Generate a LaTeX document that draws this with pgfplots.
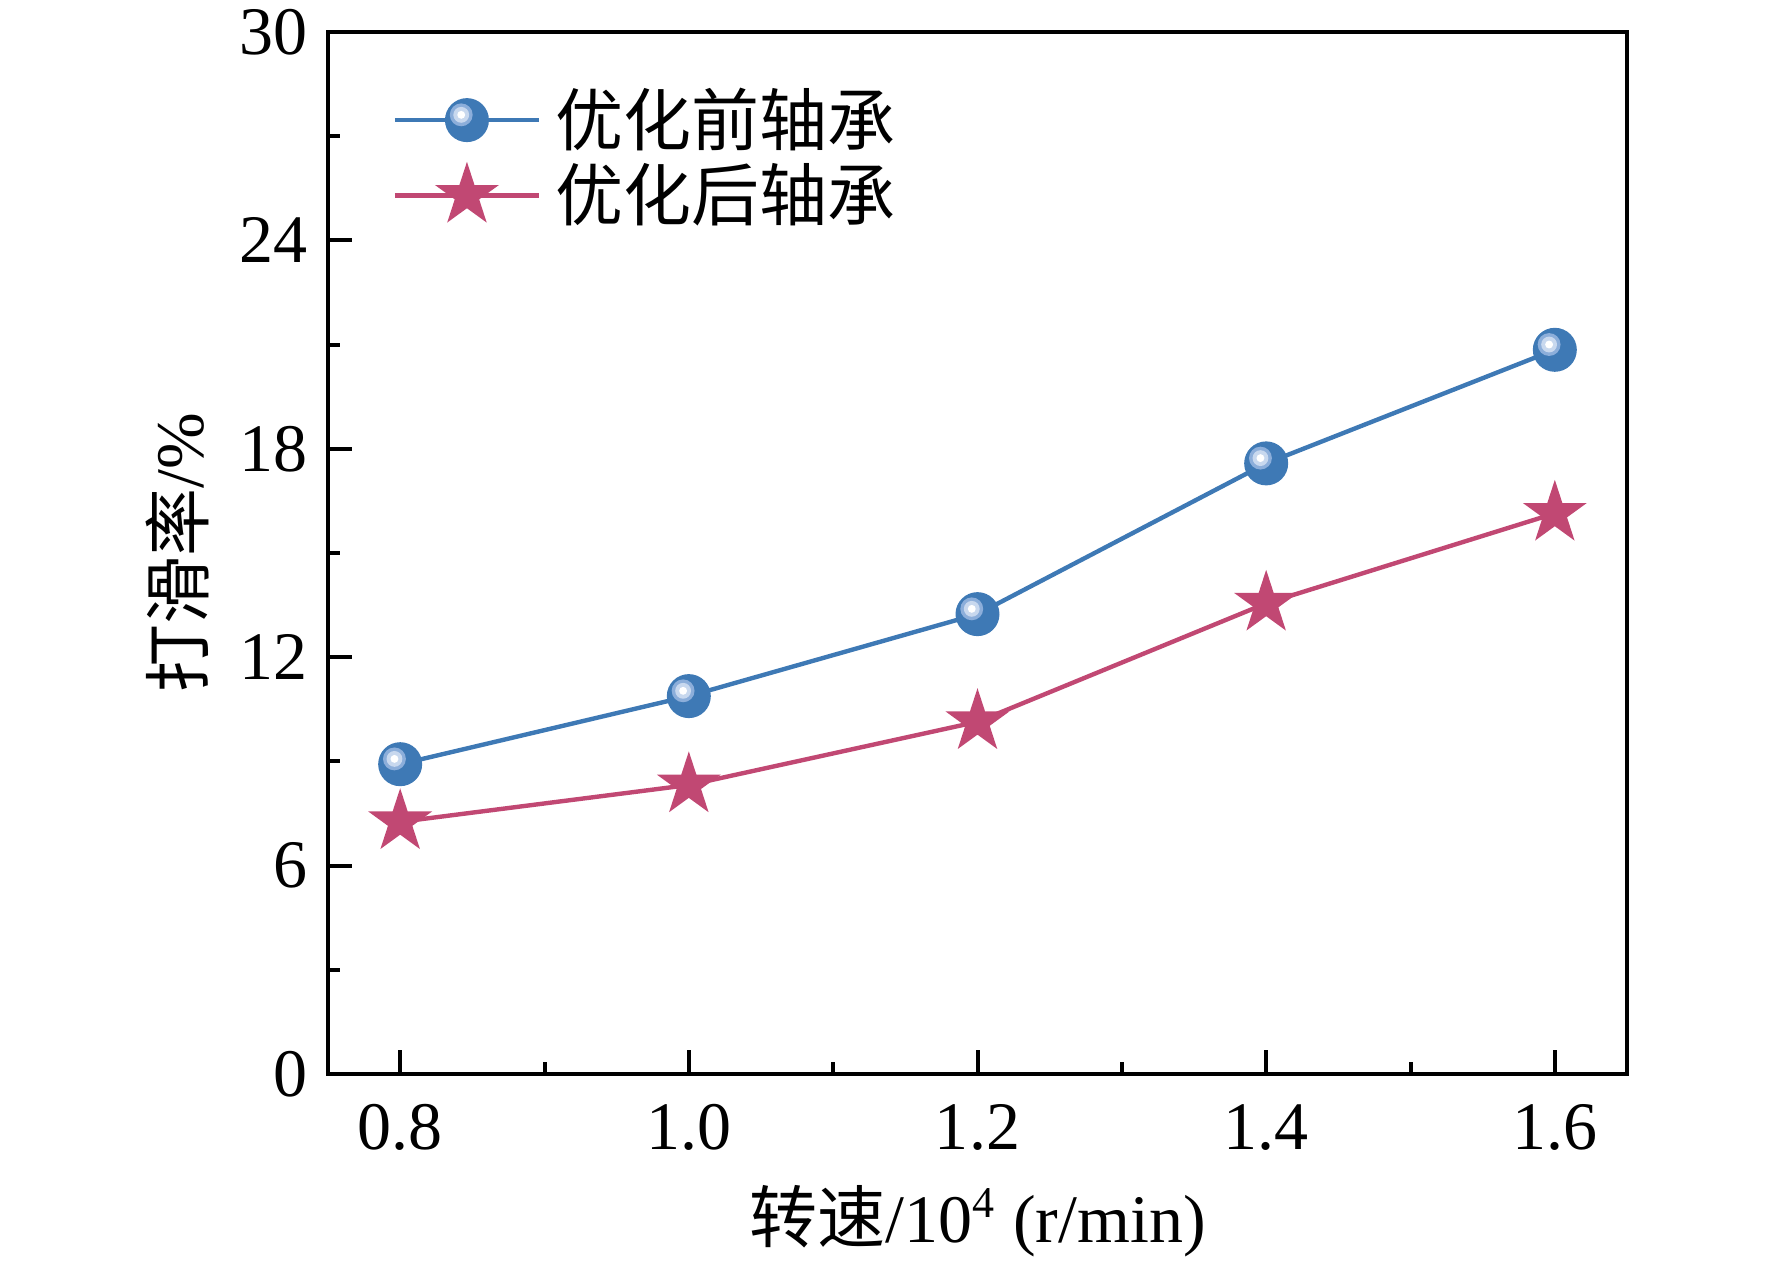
\documentclass[border=0pt]{standalone}
\usepackage{fontspec}
\setmainfont{Liberation Serif}
\newfontfamily\cjk{Noto Sans CJK SC}
\usepackage{pgfplots}
\pgfplotsset{compat=1.18}
\definecolor{lblue}{RGB}{62,121,181}
\definecolor{lpink}{RGB}{193,72,115}
\definecolor{ballpale}{RGB}{140,174,218}
\definecolor{ballpale2}{RGB}{200,216,238}
\pgfdeclareplotmark{sball}{%
  \pgfpathcircle{\pgfpointorigin}{\pgfplotmarksize}\pgfsetfillcolor{lblue}\pgfusepathqfill
  \pgfpathcircle{\pgfpoint{-0.26\pgfplotmarksize}{0.24\pgfplotmarksize}}{0.52\pgfplotmarksize}\pgfsetfillcolor{ballpale}\pgfusepathqfill
  \pgfpathcircle{\pgfpoint{-0.26\pgfplotmarksize}{0.24\pgfplotmarksize}}{0.36\pgfplotmarksize}\pgfsetfillcolor{ballpale2}\pgfusepathqfill
  \pgfpathcircle{\pgfpoint{-0.26\pgfplotmarksize}{0.24\pgfplotmarksize}}{0.18\pgfplotmarksize}\pgfsetfillcolor{white}\pgfusepathqfill
}
\pgfdeclareplotmark{fstar}{%
  \pgfpathmoveto{\pgfpointpolar{90}{\pgfplotmarksize}}%
  \pgfpathlineto{\pgfpointpolar{126}{0.382\pgfplotmarksize}}%
  \pgfpathlineto{\pgfpointpolar{162}{\pgfplotmarksize}}%
  \pgfpathlineto{\pgfpointpolar{198}{0.382\pgfplotmarksize}}%
  \pgfpathlineto{\pgfpointpolar{234}{\pgfplotmarksize}}%
  \pgfpathlineto{\pgfpointpolar{270}{0.382\pgfplotmarksize}}%
  \pgfpathlineto{\pgfpointpolar{306}{\pgfplotmarksize}}%
  \pgfpathlineto{\pgfpointpolar{342}{0.382\pgfplotmarksize}}%
  \pgfpathlineto{\pgfpointpolar{18}{\pgfplotmarksize}}%
  \pgfpathlineto{\pgfpointpolar{54}{0.382\pgfplotmarksize}}%
  \pgfpathclose\pgfsetfillcolor{lpink}\pgfusepathqfill
}
\begin{document}
\begin{tikzpicture}
\begin{axis}[
  scale only axis,
  width=324.75pt, height=260.5pt,
  xmin=0.75, xmax=1.65, ymin=0, ymax=30,
  xtick={0.8,1.0,1.2,1.4,1.6},
  ytick={0,6,12,18,24,30},
  minor x tick num=1, minor y tick num=1,
  xtick pos=bottom, ytick pos=left,
  tick align=inside,
  major tick length=6pt, minor tick length=3pt,
  every tick/.style={black, line width=1pt},
  axis line style={line width=1pt},
  /pgf/number format/assume math mode=true,
  tick label style={font=\fontsize{17}{20}\selectfont},
  xticklabel style={yshift=-4pt, /pgf/number format/.cd, fixed, fixed zerofill, precision=1},
  yticklabel style={xshift=-1.5pt},
  label style={font=\fontsize{17}{20}\selectfont},
  xlabel={{\cjk 转速}/10\textsuperscript{\fontsize{11}{12}\selectfont 4} (r/min)},
  ylabel={{\cjk 打滑率}/\%},
  xlabel style={at={(axis description cs:0.5,-0.141)}, anchor=center},
  ylabel style={at={(axis description cs:-0.1162,0.5)}, anchor=center},
  legend style={draw=none, fill=none, at={(axis description cs:0.04,0.962)}, anchor=north west,
    font=\fontsize{17}{20}\selectfont\cjk, row sep=-1pt},
  legend cell align=left,
  legend image code/.code={\draw[mark repeat=2,mark phase=2] plot coordinates {(0pt,0pt)(18pt,0pt)(36pt,0pt)};\path (37.5pt,0pt);},
]
\addplot[color=lblue, line width=1.1pt, mark=sball, mark size=5.5pt] coordinates {
  (0.8,8.92) (1.0,10.88) (1.2,13.24) (1.4,17.58) (1.6,20.85)};
\addplot[color=lpink, line width=1.1pt, mark=fstar, mark size=8.4pt] coordinates {
  (0.8,7.26) (1.0,8.32) (1.2,10.14) (1.4,13.55) (1.6,16.14)};
\legend{优化前轴承,优化后轴承}
\coordinate (sw) at (rel axis cs:0,0);
\coordinate (ne) at (rel axis cs:1,1);
\end{axis}
\pgfresetboundingbox
\useasboundingbox ([shift={(-82pt,-47.5pt)}]sw) rectangle ([shift={(36.25pt,8pt)}]ne);
\end{tikzpicture}
\end{document}
